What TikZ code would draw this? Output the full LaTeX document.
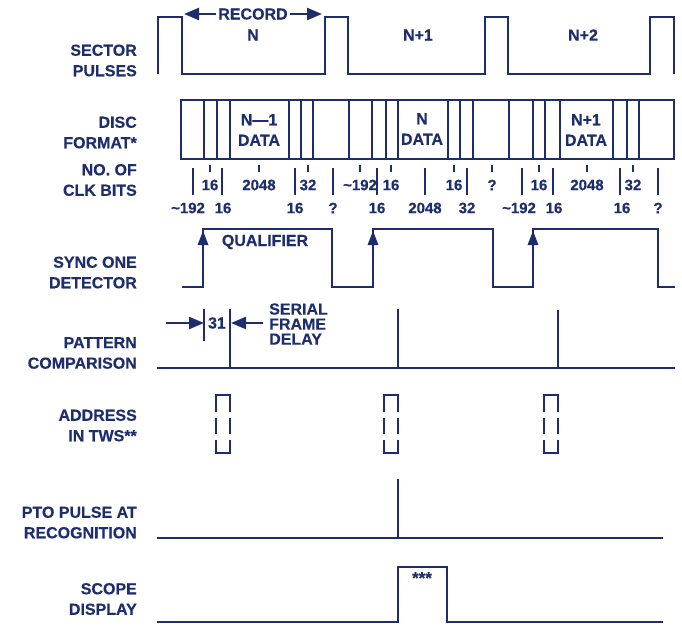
\documentclass[tikz,border=0pt]{standalone}
\usepackage{fontspec}
\setmainfont{Liberation Sans}[BoldFeatures={FakeBold=0.4}]
\usetikzlibrary{arrows.meta}
\definecolor{ink}{RGB}{30,45,110}
\begin{document}
\begin{tikzpicture}[x=1pt,y=-1pt,
  every node/.style={text=ink, font=\bfseries\fontsize{16}{20.5}\selectfont, inner sep=0pt},
  lbl/.style={align=right, anchor=east},
  num/.style={font=\bfseries\fontsize{15}{18}\selectfont},
  wave/.style={draw=ink, line width=2.7pt},
  bar/.style={draw=ink, line width=2.2pt},
  tick/.style={draw=ink, line width=1.4pt},
  dashpiece/.style={draw=ink, line width=2.2pt},
  tri/.style={-{Triangle[length=15pt,width=12pt]}},
]
\useasboundingbox (0,0) rectangle (682,626);

% left labels
\node[lbl] (l1) at (137,60.5) {SECTOR\\PULSES};
\node[lbl] (l2) at (137,132.5) {DISC\\FORMAT*};
\node[lbl] (l3) at (137,180) {NO. OF\\CLK BITS};
\node[lbl] (l4) at (137,272.5) {SYNC ONE\\DETECTOR};
\node[lbl] (l5) at (137,353) {PATTERN\\COMPARISON};
\node[lbl] (l6) at (137,425.5) {ADDRESS\\IN TWS**};
\node[lbl] (l7) at (137,522.5) {PTO PULSE AT\\RECOGNITION};
\node[lbl] (l8) at (137,599) {SCOPE\\DISPLAY};

% sector pulses
\draw[wave] (158,74) -- (158,17) -- (182,17) -- (182,74) -- (325,74) -- (325,17) -- (348,17) -- (348,74)
  -- (485,74) -- (485,17) -- (508,17) -- (508,74) -- (650,74) -- (650,17) -- (674,17) -- (674,74);
\node[inner sep=2pt] (rec) at (253,14) {RECORD};
\coordinate (recL) at (184,14);
\coordinate (recR) at (322,14);
\draw[wave,line width=2.4pt,tri] (rec.west) -- (recL);
\draw[wave,line width=2.4pt,tri] (rec.east) -- (recR);
\node (n0) at (253,35) {N};
\node (n1) at (418,35) {N+1};
\node (n2) at (583,35) {N+2};

% disc format
\draw[wave] (181,100) rectangle (674,159);
\foreach \x in {204,217,230,289,301,313,349,372,386,398,448,460,473,509,533,545,560,613,627,639}
  \draw[wave] (\x,100) -- (\x,159);
\node[align=center] (d0) at (259,130) {N—1\\DATA};
\node[align=center] (d1) at (422,129) {N\\DATA};
\node[align=center] (d2) at (586,130) {N+1\\DATA};

% clock bits: upper labels with small ticks
\foreach \x/\t in {210/16,259/2048,308/32,360/{\textasciitilde192},391/16,454/16,492/?,539/16,587/2048,633/32}{
  \draw[tick] (\x,165) -- (\x,172);
  \node[num] at (\x,185) {\t};
}
% lower labels with long bars
\foreach \x/\lx/\t in {193/188/{\textasciitilde192},222/223/16,295/295/16,333/333/?,377/377/16,425/425/2048,467/467/32,522/519/{\textasciitilde192},553/554/16,620/622/16,658/658/?}{
  \draw[bar] (\x,168) -- (\x,195);
  \node[num] at (\lx,208) {\t};
}

% sync one detector
\draw[wave] (182,287) -- (203,287) -- (203,229) -- (332,229) -- (332,287) -- (373,287) -- (373,229)
  -- (493,229) -- (493,287) -- (533,287) -- (533,229) -- (658,229) -- (658,287) -- (675,287);
\foreach \x in {203,373,533}
  \fill[ink] (\x,231) -- (\x-5.5,245) -- (\x+5.5,245) -- cycle;
\node (qual) at (265,242) {QUALIFIER};

% pattern comparison
\draw[wave] (157,368) -- (675,368);
\draw[bar] (230,368) -- (230,309);
\draw[bar] (398,368) -- (398,309);
\draw[bar] (558,368) -- (558,310);
\draw[bar] (204,309) -- (204,341);
\node (t31) at (217,323) {31};
\coordinate (aL0) at (166,323);
\coordinate (aL1) at (204,323);
\coordinate (aR0) at (263,323);
\coordinate (aR1) at (231,323);
\draw[wave,line width=2.4pt,tri] (aL0) -- (aL1);
\draw[wave,line width=2.4pt,tri] (aR0) -- (aR1);
\node[align=left, anchor=west, font=\bfseries\fontsize{16}{15}\selectfont] (sfd) at (269,324) {SERIAL\\FRAME\\DELAY};

% address in TWS
\foreach \a in {216,384,544}{
  \draw[dashpiece] (\a,412) -- (\a,395) -- (\a+14,395) -- (\a+14,412);
  \draw[dashpiece] (\a,418) -- (\a,434);
  \draw[dashpiece] (\a+14,418) -- (\a+14,434);
  \draw[dashpiece] (\a,440) -- (\a,453) -- (\a+14,453) -- (\a+14,440);
}

% PTO pulse
\draw[wave] (157,538) -- (663,538);
\draw[bar] (398,538) -- (398,479);

% scope display
\draw[wave] (157,622) -- (398,622) -- (398,567) -- (447,567) -- (447,622) -- (663,622);
\node[font=\bfseries\fontsize{17}{18}\selectfont] (ast) at (422,578) {***};
\end{tikzpicture}
\end{document}
